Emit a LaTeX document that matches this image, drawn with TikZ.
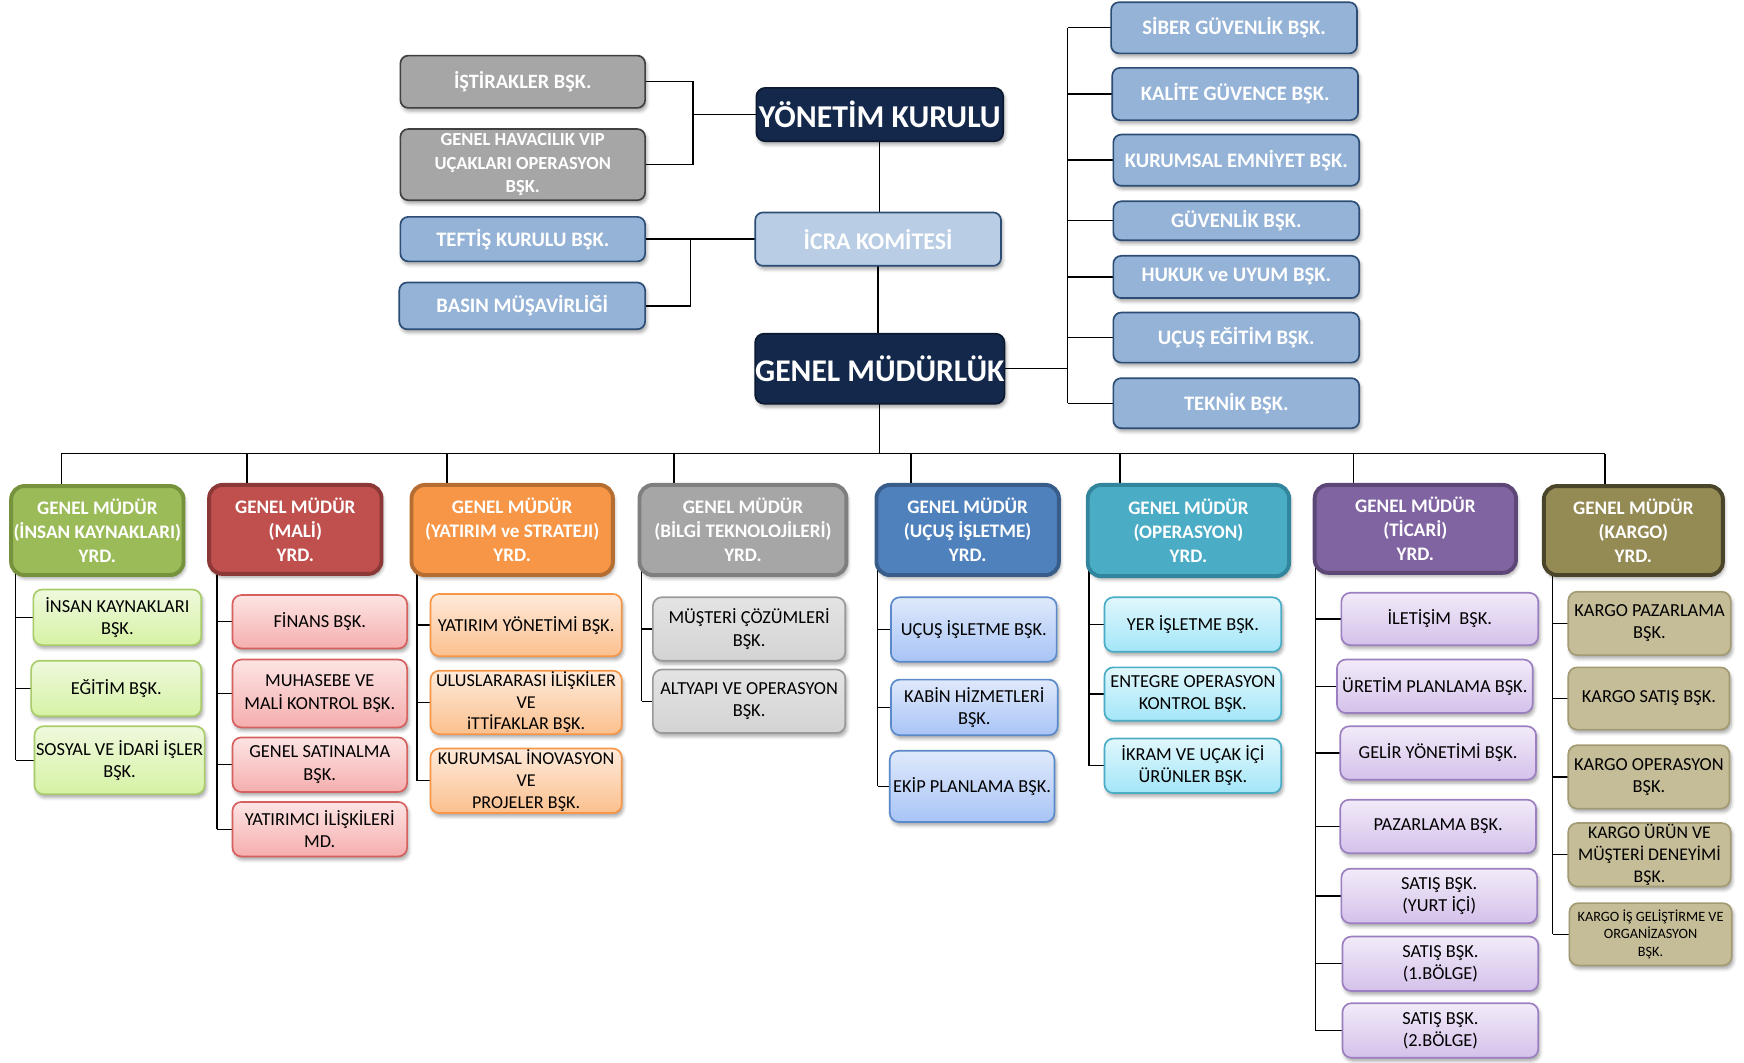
\documentclass[tikz,border=0pt]{standalone}
\usepackage{fontspec}
\setmainfont{Carlito}
\usetikzlibrary{shadows.blur,backgrounds,calc}
\definecolor{cTG}{HTML}{A6A6A6}\definecolor{cTGd}{HTML}{404040}
\definecolor{cTB}{HTML}{95B3D7}\definecolor{cTBd}{HTML}{2C4D75}
\definecolor{cNavy}{HTML}{13284A}\definecolor{cNavyD}{HTML}{0C1A31}
\definecolor{cIcra}{HTML}{B9CDE5}
\definecolor{gA}{HTML}{9BBB59}\definecolor{gB}{HTML}{76923C}\definecolor{gT}{HTML}{EEF9DD}\definecolor{gU}{HTML}{D6F2A4}\definecolor{gE}{HTML}{A9CC6A}
\definecolor{rA}{HTML}{C0504D}\definecolor{rB}{HTML}{8C3836}\definecolor{rT}{HTML}{FDE4E4}\definecolor{rU}{HTML}{F5AEAE}\definecolor{rE}{HTML}{D5605E}
\definecolor{oA}{HTML}{F79646}\definecolor{oB}{HTML}{B66D31}\definecolor{oT}{HTML}{FEEADA}\definecolor{oU}{HTML}{FBC08E}\definecolor{oE}{HTML}{F79646}
\definecolor{kA}{HTML}{A6A6A6}\definecolor{kB}{HTML}{7F7F7F}\definecolor{kT}{HTML}{E4E4E4}\definecolor{kU}{HTML}{D3D3D3}\definecolor{kE}{HTML}{9A9A9A}
\definecolor{bA}{HTML}{4F81BD}\definecolor{bB}{HTML}{385D8A}\definecolor{bT}{HTML}{DFE9FB}\definecolor{bU}{HTML}{A8C4F6}\definecolor{bE}{HTML}{5B8ACB}
\definecolor{tA}{HTML}{4BACC6}\definecolor{tB}{HTML}{31859C}\definecolor{tT}{HTML}{E0F7FC}\definecolor{tU}{HTML}{A3E6F8}\definecolor{tE}{HTML}{4BACC6}
\definecolor{pA}{HTML}{8064A2}\definecolor{pB}{HTML}{5C4776}\definecolor{pT}{HTML}{F2EBF9}\definecolor{pU}{HTML}{D4C1EA}\definecolor{pE}{HTML}{9C7FC0}
\definecolor{vA}{HTML}{948A54}\definecolor{vB}{HTML}{4A452A}\definecolor{vT}{HTML}{C4BD97}\definecolor{vU}{HTML}{C4BD97}\definecolor{vE}{HTML}{A29A72}
\begin{document}
\begin{tikzpicture}[x=1pt,y=-1pt,
  conn/.style={line width=1.2pt, black},
  wh/.style 2 args={minimum width=#1pt, minimum height=#2pt},
  shd/.style={blur shadow={shadow xshift=1.5pt, shadow yshift=-3pt, shadow blur radius=3pt, shadow opacity=35}},
  base/.style={shd, align=center, inner sep=0pt, outer sep=0pt},
  tgray/.style={base, rounded corners=7pt, fill=cTG, draw=cTGd, line width=1.5pt, text=white, font=\bfseries\fontsize{18.3}{21}\selectfont},
  tblue/.style={base, rounded corners=7pt, fill=cTB, draw=cTBd, line width=1.5pt, text=white, font=\bfseries\fontsize{18.5}{21}\selectfont},
  tnavy/.style={base, rounded corners=8pt, fill=cNavy, draw=cNavyD, line width=1.5pt, text=white, font=\bfseries\fontsize{28.6}{30}\selectfont},
  yrd/.style 2 args={base, rounded corners=12pt, fill=#1, draw=#2, line width=3.5pt, text=white, font=\bfseries\fontsize{17.2}{21.5}\selectfont},
  sub/.style={base, rounded corners=8pt, line width=1.5pt, text=black, font=\fontsize{16.5}{20}\selectfont},
  sg/.style={sub, top color=gT, bottom color=gU, draw=gE},
  sr/.style={sub, top color=rT, bottom color=rU, draw=rE},
  so/.style={sub, top color=oT, bottom color=oU, draw=oE},
  sk/.style={sub, top color=kT, bottom color=kU, draw=kE},
  sb/.style={sub, top color=bT, bottom color=bU, draw=bE},
  st/.style={sub, top color=tT, bottom color=tU, draw=tE},
  sp/.style={sub, top color=pT, bottom color=pU, draw=pE},
  sv/.style={sub, fill=vT, draw=vE},
]
\useasboundingbox (0,0) rectangle (1568,955);

% top block
\node[tgray, wh={220}{47}] (ist) at (470,73.5) {İŞTİRAKLER BŞK.};
\node[tgray, wh={220}{64}, font=\bfseries\fontsize{16.6}{21}\selectfont] (hav) at (470,148) {GENEL HAVACILIK VIP\\UÇAKLARI OPERASYON\\BŞK.};
\node[tnavy, wh={222}{48}] (yk) at (791,103) {YÖNETİM KURULU};
\node[tblue, wh={221}{48}, fill=cIcra, font=\bfseries\fontsize{21.5}{24}\selectfont] (icra) at (789.5,215) {İCRA KOMİTESİ};
\node[tblue, wh={220}{40}] (teftis) at (470,215) {TEFTİŞ KURULU BŞK.};
\node[tblue, wh={221}{42}] (basin) at (469.5,275) {BASIN MÜŞAVİRLİĞİ};
\node[tnavy, wh={222}{63}, font=\bfseries\fontsize{28.4}{30}\selectfont] (gm) at (791,331.5) {GENEL MÜDÜRLÜK};

% right column
\node[tblue, wh={221}{46}] (siber) at (1109.5,25) {SİBER GÜVENLİK BŞK.};
\node[tblue, wh={221}{47}] (kalite) at (1110.5,84.5) {KALİTE GÜVENCE BŞK.};
\node[tblue, wh={221}{46}] (kurumsal) at (1111.5,144) {KURUMSAL EMNİYET BŞK.};
\node[tblue, wh={221}{35}] (guvenlik) at (1111.5,198.5) {GÜVENLİK BŞK.};
\node[tblue, wh={221}{38}] (hukuk) at (1111.5,249) {HUKUK ve UYUM BŞK.};
\node[tblue, wh={221}{45}] (ucusegitim) at (1111.5,303.5) {UÇUŞ EĞİTİM BŞK.};
\node[tblue, wh={221}{45}] (teknik) at (1111.5,362.5) {TEKNİK BŞK.};

% deputy general managers
\node[yrd={gA}{gB}, wh={155}{80}] (g1) at (87.5,477) {GENEL MÜDÜR\\(İNSAN KAYNAKLARI)\\YRD.};
\node[yrd={rA}{rB}, wh={155}{80}] (g2) at (265.5,476) {GENEL MÜDÜR\\(MALİ)\\YRD.};
\node[yrd={oA}{oB}, wh={181}{81}] (g3) at (460.5,476.5) {GENEL MÜDÜR\\(YATIRIM ve STRATEJI)\\YRD.};
\node[yrd={kA}{kB}, wh={186}{81}] (g4) at (668,476.5) {GENEL MÜDÜR\\(BİLGİ TEKNOLOJİLERİ)\\YRD.};
\node[yrd={bA}{bB}, wh={164}{81}] (g5) at (870,476.5) {GENEL MÜDÜR\\(UÇUŞ İŞLETME)\\YRD.};
\node[yrd={tA}{tB}, wh={181}{82}] (g6) at (1068.5,477) {GENEL MÜDÜR\\(OPERASYON)\\YRD.};
\node[yrd={pA}{pB}, wh={181}{79}] (g7) at (1272.5,475.5) {GENEL MÜDÜR\\(TİCARİ)\\YRD.};
\node[yrd={vA}{vB}, wh={161}{80}] (g8) at (1468.5,477) {GENEL MÜDÜR\\(KARGO)\\YRD.};

% green column
\node[sg, wh={151}{50}] (s11) at (105.5,555) {İNSAN KAYNAKLARI\\BŞK.};
\node[sg, wh={153}{50}] (s12) at (104.5,619) {EĞİTİM BŞK.};
\node[sg, wh={153}{61}] (s13) at (107.5,683.5) {SOSYAL VE İDARİ İŞLER\\BŞK.};
% red column
\node[sr, wh={157}{48}] (s21) at (287.5,559) {FİNANS BŞK.};
\node[sr, wh={157}{61}] (s22) at (287.5,623.5) {MUHASEBE VE\\MALİ KONTROL BŞK.};
\node[sr, wh={157}{49}] (s23) at (287.5,687.5) {GENEL SATINALMA\\BŞK.};
\node[sr, wh={157}{49}] (s24) at (287.5,745.5) {YATIRIMCI İLİŞKİLERİ\\MD.};
% orange column
\node[so, wh={172}{56}] (s31) at (473,562) {YATIRIM YÖNETİMİ BŞK.};
\node[so, wh={172}{57}, font=\fontsize{16.3}{19.5}\selectfont] (s32) at (473,631.5) {ULUSLARARASI İLİŞKİLER\\VE\\iTTİFAKLAR BŞK.};
\node[so, wh={172}{58}, font=\fontsize{16.3}{19.5}\selectfont] (s33) at (473,702) {KURUMSAL İNOVASYON\\VE\\PROJELER BŞK.};
% gray column
\node[sk, wh={173}{57}] (s41) at (673.5,565.5) {MÜŞTERİ ÇÖZÜMLERİ\\BŞK.};
\node[sk, wh={173}{57}] (s42) at (673.5,630.5) {ALTYAPI VE OPERASYON\\BŞK.};
% blue column
\node[sb, wh={149}{58}] (s51) at (875.5,566) {UÇUŞ İŞLETME BŞK.};
\node[sb, wh={150}{50}] (s52) at (876,636) {KABİN HİZMETLERİ\\BŞK.};
\node[sb, wh={148}{64}] (s53) at (874,707) {EKİP PLANLAMA BŞK.};
% teal column
\node[st, wh={159}{49}] (s61) at (1072.5,561.5) {YER İŞLETME BŞK.};
\node[st, wh={159}{48}] (s62) at (1072.5,624) {ENTEGRE OPERASYON\\KONTROL BŞK.};
\node[st, wh={159}{49}] (s63) at (1072.5,688.5) {İKRAM VE UÇAK İÇİ\\ÜRÜNLER BŞK.};
% purple column
\node[sp, wh={177}{47}] (s71) at (1294.5,556.5) {İLETİŞİM\ \ BŞK.};
\node[sp, wh={176}{48}] (s72) at (1290,617) {ÜRETİM PLANLAMA BŞK.};
\node[sp, wh={176}{48}] (s73) at (1293,677) {GELİR YÖNETİMİ BŞK.};
\node[sp, wh={176}{48}] (s74) at (1293,743) {PAZARLAMA BŞK.};
\node[sp, wh={176}{49}] (s75) at (1294,805.5) {SATIŞ BŞK.\\(YURT İÇİ)};
\node[sp, wh={176}{49}] (s76) at (1295,866.5) {SATIŞ BŞK.\\(1.BÖLGE)};
\node[sp, wh={176}{49}] (s77) at (1295,926.5) {SATIŞ BŞK.\\(2.BÖLGE)};
% olive column
\node[sv, wh={146}{57}] (s81) at (1483,560.5) {KARGO PAZARLAMA\\BŞK.};
\node[sv, wh={145}{56}] (s82) at (1482.5,628) {KARGO SATIŞ BŞK.};
\node[sv, wh={145}{57}] (s83) at (1482.5,698.5) {KARGO OPERASYON\\BŞK.};
\node[sv, wh={146}{57}, font=\fontsize{16}{19.5}\selectfont] (s84) at (1483,768.5) {KARGO ÜRÜN VE\\MÜŞTERİ DENEYİMİ\\BŞK.};
\node[sv, wh={146}{56}, font=\fontsize{12.8}{15.5}\selectfont] (s85) at (1484,840) {KARGO İŞ GELİŞTİRME VE\\ORGANİZASYON\\BŞK.};

% connectors
\begin{pgfonlayer}{background}
\coordinate (j1) at (623,103);
\coordinate (j2) at (621,215);
\draw[conn] (ist.east) -| (j1) |- (hav.east);
\draw[conn] (j1) -- (yk.west);
\draw[conn] (teftis.east) -- (icra.west);
\draw[conn] (j2) |- (basin.east);
\draw[conn] (yk.south) -- (yk.south |- icra.north);
\draw[conn] (icra.south) -- (icra.south |- gm.north);

\coordinate (rb) at (960,331.5);
\draw[conn] (gm.east) -- (rb);
\draw[conn] (rb |- siber.west) -- (rb |- teknik.west);
\foreach \n in {siber,kalite,kurumsal,guvenlik,hukuk,ucusegitim,teknik}
  \draw[conn] (rb |- \n.west) -- (\n.west);

\coordinate (bus) at (791,408);
\draw[conn] (gm.south) -- (gm.south |- bus);
\coordinate (d1) at (55,408);
\coordinate (d2) at (222,408);
\coordinate (d3) at (402,408);
\coordinate (d4) at (606,408);
\coordinate (d5) at (819,408);
\coordinate (d6) at (1007,408);
\coordinate (d7) at (1217,408);
\coordinate (d8) at (1443,408);
\draw[conn] (d1) -- (d8);
\foreach \d/\g in {d1/g1,d2/g2,d3/g3,d4/g4,d5/g5,d6/g6,d7/g7,d8/g8}
  \draw[conn] (\d) -- (\d |- \g.center);

\coordinate (v1) at (14,500);
\coordinate (v2) at (195,500);
\coordinate (v3) at (375,500);
\coordinate (v4) at (577,500);
\coordinate (v5) at (789,500);
\coordinate (v6) at (979,500);
\coordinate (v7) at (1183,500);
\coordinate (v8) at (1396,500);
\draw[conn] (v1 |- g1.center) -- (v1 |- s13.west);
\draw[conn] (v2 |- g2.center) -- (v2 |- s24.west);
\draw[conn] (v3 |- g3.center) -- (v3 |- s33.west);
\draw[conn] (v4 |- g4.center) -- (v4 |- s42.west);
\draw[conn] (v5 |- g5.center) -- (v5 |- s53.west);
\draw[conn] (v6 |- g6.center) -- (v6 |- s63.west);
\draw[conn] (v7 |- g7.center) -- (v7 |- s77.west);
\draw[conn] (v8 |- g8.center) -- (v8 |- s85.west);
\foreach \v/\s in {v1/s11,v1/s12,v1/s13,v2/s21,v2/s22,v2/s23,v2/s24,v3/s31,v3/s32,v3/s33,v4/s41,v4/s42,v5/s51,v5/s52,v5/s53,v6/s61,v6/s62,v6/s63,v7/s71,v7/s72,v7/s73,v7/s74,v7/s75,v7/s76,v7/s77,v8/s81,v8/s82,v8/s83,v8/s84,v8/s85}
  \draw[conn] (\v |- \s.west) -- (\s.west);
\end{pgfonlayer}
\end{tikzpicture}
\end{document}
